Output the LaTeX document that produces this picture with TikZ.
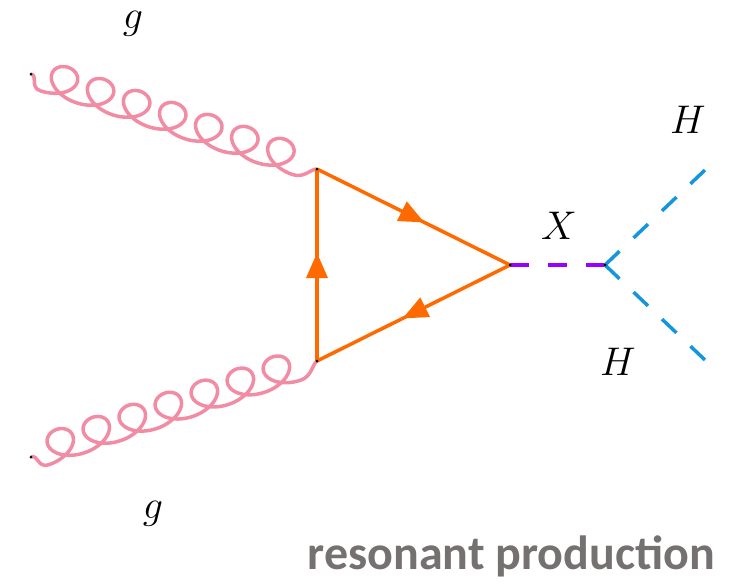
\RequirePackage{fix-cm}
\documentclass[tikz,border=0pt]{standalone}
\usepackage{fontspec}
\newfontfamily\capfont{Carlito}
\usetikzlibrary{decorations.markings}
\definecolor{gluoncol}{RGB}{242,140,165}
\definecolor{fermcol}{RGB}{255,106,0}
\definecolor{xcol}{RGB}{153,0,255}
\definecolor{hcol}{RGB}{20,150,220}
\definecolor{capcol}{RGB}{118,113,113}
\tikzset{
  gluonline/.style={draw=gluoncol, line width=3.5pt, line join=round},
  fermion/.style={draw=fermcol, line width=3.5pt, postaction={decorate},
    decoration={markings, mark=at position 0.5 with {\fill[fermcol] (12pt,0pt) -- (-13pt,11pt) -- (-13pt,-11pt) -- cycle;}}},
  xline/.style={draw=xcol, line width=3.5pt, dash pattern=on 19pt off 19pt},
  hline/.style={draw=hcol, line width=3.5pt, dash pattern=on 20pt off 19.3pt},
  vdot/.style={fill=black, circle, inner sep=0pt, minimum size=3pt},
  lab/.style={font=\fontsize{40}{46}\selectfont, inner sep=0pt}
}
% #1 start coordinate, #2 angle, #3 length
\newcommand\mygluon[3]{%
  \begin{scope}[shift={(#1)}, rotate=#2, x=1pt, y=1pt]
    \draw[gluonline] (0,0) .. controls (7,1) and (3,-13) .. (14.1,-13)
      -- plot[domain=3.14159:47.12389, samples=500, smooth, variable=\t]
         ({14.1 + 6.048*(\t - 3.14159) - 22*sin(\t r)}, {15.5*cos(\t r) + 2.5})
      .. controls (292,-13) and (#3-6,-2) .. (#3,0);
  \end{scope}}
\begin{document}
\begin{tikzpicture}[x=1pt,y=-1pt]
\useasboundingbox (0,0) rectangle (731,584);
\coordinate (g1) at (31,74);
\coordinate (g2) at (31,457);
\coordinate (v1) at (317,169);
\coordinate (v2) at (317,361);
\coordinate (v3) at (510,265);
\coordinate (v4) at (605,265);
\coordinate (h1) at (705,170);
\coordinate (h2) at (705,360);
\mygluon{g1}{-18.37}{301.4}
\mygluon{g2}{18.56}{301.7}
\draw[fermion] (v1) -- (v3);
\draw[fermion] (v3) -- (v2);
\draw[fermion] (v2) -- (v1);
\draw[xline] (v3) -- (v4);
\draw[hline] (v4) -- (h1);
\draw[hline] (v4) -- (h2);
\foreach \p in {g1,g2,v1,v2,v3,v4} \node[vdot] at (\p) {};
\node[lab] (lg1) at (133,24) {$g$};
\node[lab] (lg2) at (153,514) {$g$};
\node[lab] (lx) at (559,226) {$X$};
\node[lab] (lh1) at (688,120) {$H$};
\node[lab] (lh2) at (618,362) {$H$};
\node[font=\capfont\bfseries\fontsize{48}{56}\selectfont, text=capcol, anchor=base east, inner sep=0pt] (cap) at (715,569) {resonant production};
\end{tikzpicture}
\end{document}
